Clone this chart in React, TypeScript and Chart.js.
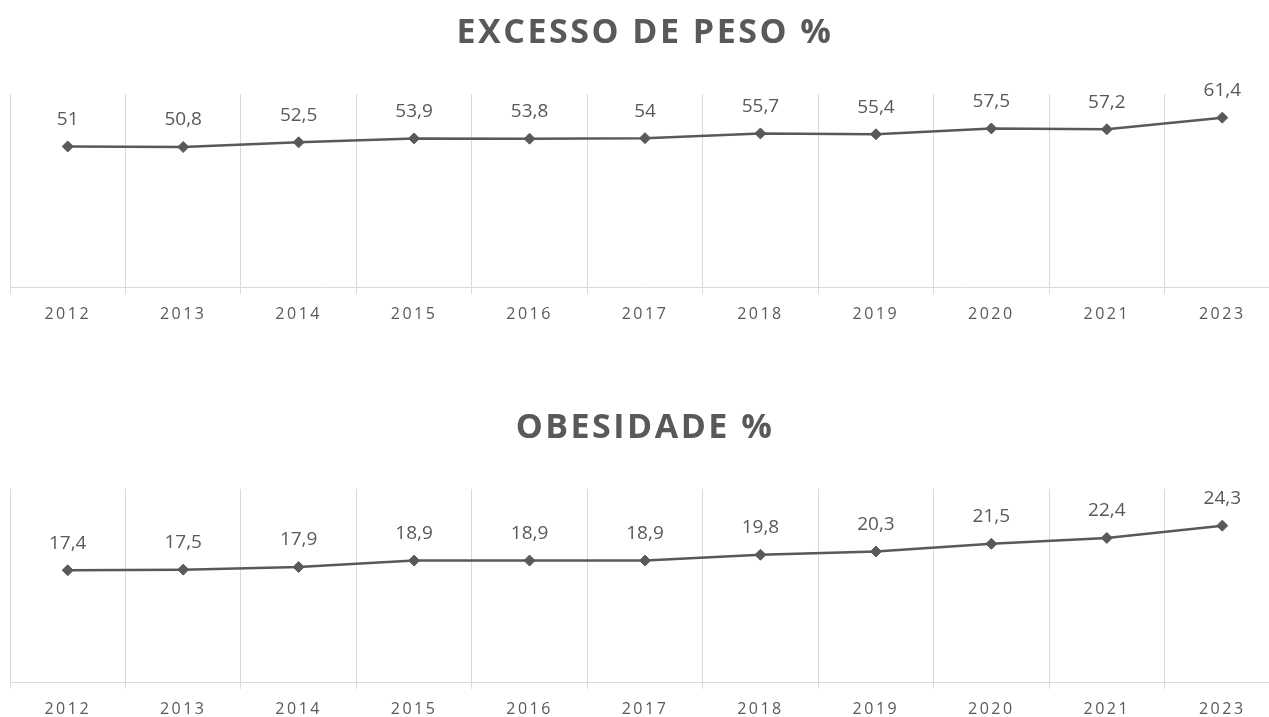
import { useEffect, useRef } from "react";
import { Chart, registerables } from "chart.js";

Chart.register(...registerables);

const years = ["2012", "2013", "2014", "2015", "2016", "2017", "2018", "2019", "2020", "2021", "2023"];
const excessoPeso = [51, 50.8, 52.5, 53.9, 53.8, 54, 55.7, 55.4, 57.5, 57.2, 61.4];
const obesidade = [17.4, 17.5, 17.9, 18.9, 18.9, 18.9, 19.8, 20.3, 21.5, 22.4, 24.3];
const titleExcesso = "EXCESSO DE PESO %";
const titleObesidade = "OBESIDADE %";
const maxExcesso = 70;
const maxObesidade = 30;

const GREY = "#595959";
const GRID = "#d9d9d9";

const spacingPlugin = {
  id: "spacing",
  beforeDraw(chart: any) {
    (chart.ctx as any).letterSpacing = "2.5px";
  },
  afterDatasetsDraw(chart: any) {
    const ctx = chart.ctx as any;
    ctx.save();
    ctx.letterSpacing = "0px";
    ctx.font = "19px 'Open Sans'";
    ctx.fillStyle = GREY;
    ctx.textAlign = "center";
    ctx.textBaseline = "middle";
    const meta = chart.getDatasetMeta(0);
    const data = chart.data.datasets[0].data as number[];
    meta.data.forEach((pt: any, i: number) => {
      const label = String(data[i]).replace(".", ",");
      ctx.fillText(label, pt.x, pt.y - 27);
    });
    ctx.restore();
  },
};

function makeConfig(title: string, values: number[], max: number): any {
  return {
    type: "line",
    data: {
      labels: years,
      datasets: [
        {
          data: values,
          borderColor: GREY,
          backgroundColor: GREY,
          borderWidth: 2.5,
          pointStyle: "rectRot",
          pointRadius: 5.5,
          pointBorderWidth: 1,
          pointBackgroundColor: GREY,
          pointBorderColor: GREY,
          tension: 0,
        },
      ],
    },
    options: {
      responsive: false,
      animation: false,
      layout: { padding: { left: 10, right: 10, top: 0, bottom: 5 } },
      plugins: {
        legend: { display: false },
        tooltip: { enabled: false },
        title: {
          display: true,
          text: title,
          color: GREY,
          font: { family: "'Open Sans'", size: 34, weight: "bold" },
          padding: { top: 13, bottom: 40 },
        },
      },
      scales: {
        x: {
          offset: true,
          grid: {
            display: true,
            offset: true,
            color: GRID,
            lineWidth: 1,
            tickLength: 6,
            drawTicks: true,
          },
          border: { display: true, color: GRID, width: 1 },
          ticks: {
            color: GREY,
            padding: 11,
            font: { family: "'Open Sans'", size: 16 },
          },
        },
        y: {
          display: false,
          min: 0,
          max: max,
          grid: { display: false },
        },
      },
    },
    plugins: [spacingPlugin],
  };
}

export default function App() {
  const ref1 = useRef<HTMLCanvasElement>(null);
  const ref2 = useRef<HTMLCanvasElement>(null);

  useEffect(() => {
    const c1 = new Chart(ref1.current!, makeConfig(titleExcesso, excessoPeso, maxExcesso));
    const c2 = new Chart(ref2.current!, makeConfig(titleObesidade, obesidade, maxObesidade));
    return () => {
      c1.destroy();
      c2.destroy();
    };
  }, []);

  return (
    <div style={{ position: "fixed", left: 0, top: 0, width: 1269, height: 717, overflow: "hidden", background: "#fff" }}>
      <canvas ref={ref1} width={1290} height={340} style={{ position: "absolute", left: 0, top: 0 }} />
      <canvas ref={ref2} width={1290} height={340} style={{ position: "absolute", left: 0, top: 395 }} />
    </div>
  );
}
